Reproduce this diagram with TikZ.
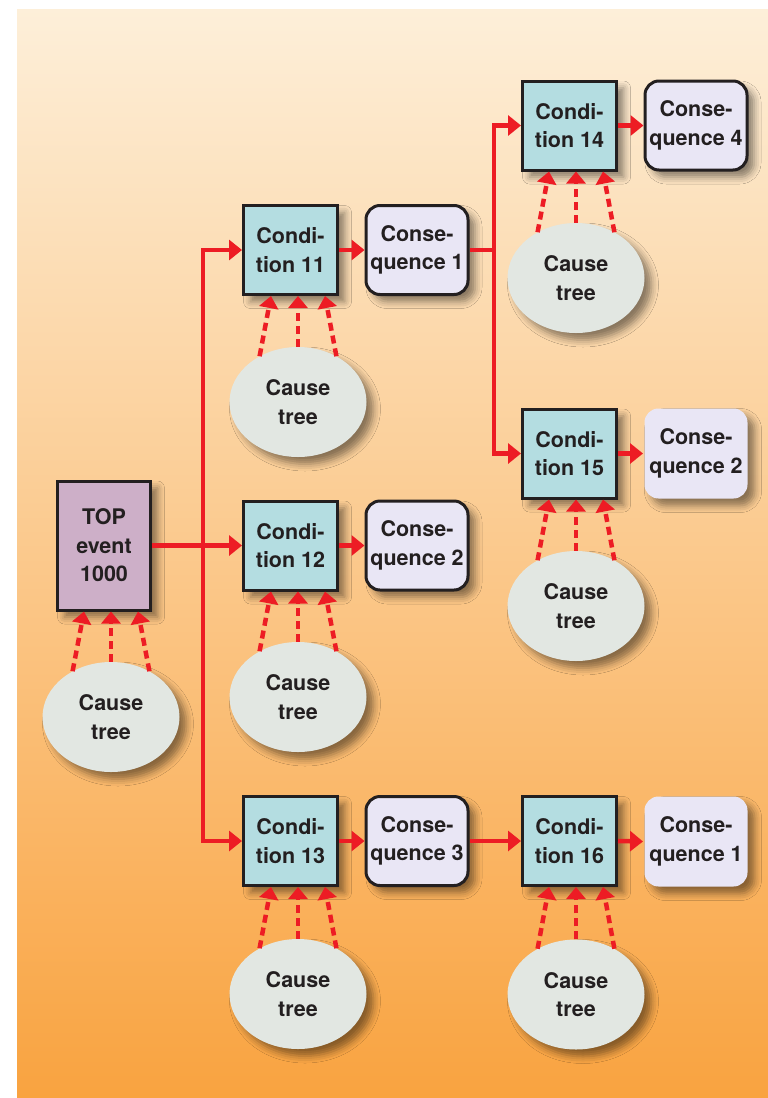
\documentclass[tikz,border=0pt]{standalone}
\usepackage{fontspec}
\setmainfont{TeX Gyre Heros}
\usetikzlibrary{arrows.meta,shapes.geometric,shadows.blur,calc}

\definecolor{bgtop}{RGB}{253,239,217}
\definecolor{bgbot}{RGB}{249,163,64}
\definecolor{arrred}{RGB}{237,28,36}
\definecolor{ink}{RGB}{35,31,32}
\definecolor{condfill}{RGB}{180,221,225}
\definecolor{consfill}{RGB}{233,230,245}
\definecolor{topfill}{RGB}{205,175,200}
\definecolor{causefill}{RGB}{226,231,226}

\tikzset{
  softshadow/.style={blur shadow={shadow xshift=7pt, shadow yshift=-7pt,
      shadow blur radius=7pt, shadow opacity=45}},
  lbl/.style={font=\fontsize{21.5}{28.5}\selectfont\bfseries, text=ink,
      align=center, inner sep=0pt},
  condbox/.style={lbl, rectangle, draw=ink, line width=3pt, fill=condfill,
      minimum width=94pt, minimum height=89pt, softshadow},
  conbox/.style={lbl, rectangle, rounded corners=14pt, draw=ink, line width=3pt,
      fill=consfill, minimum width=102pt, minimum height=89pt, softshadow},
  conplain/.style={conbox, draw=none, minimum width=103pt, minimum height=90pt},
  topbox/.style={lbl, rectangle, draw=ink, line width=3pt, fill=topfill,
      minimum width=93pt, minimum height=129pt, softshadow},
  causeell/.style={lbl, ellipse, fill=causefill, minimum width=137pt,
      minimum height=110pt, softshadow},
  flow/.style={draw=arrred, line width=4.5pt},
  flowarr/.style={flow, -{Triangle[length=13pt,width=20pt]}},
  feedarr/.style={flow, dash pattern=on 8pt off 5pt,
      -{Triangle[length=12pt,width=19pt]}},
}

% three dashed feeds from a cause tree into the box above it
\newcommand\feeds[2]{%
  \draw[feedarr] (#1.130) -- ($(#1.center |- #2.south)+(-27,0)$);
  \draw[feedarr] (#1.90) -- (#1.center |- #2.south);
  \draw[feedarr] (#1.50) -- ($(#1.center |- #2.south)+(27,0)$);}

\begin{document}
\begin{tikzpicture}[x=1pt,y=-1pt]
\useasboundingbox (0,0) rectangle (768,1098);
\fill[white] (0,0) rectangle (768,1098);
\fill[top color=bgtop, bottom color=bgbot] (17,9) rectangle (768,1097);

% top event
\node[topbox] (top) at (104,545.5) {TOP\\event\\1000};
\node[causeell] (ct) at (111,717) {Cause\\tree};

% first level
\node[condbox] (c11) at (290.5,250) {Condi-\\tion 11};
\node[conbox]  (q11) at (417,250) {Conse-\\quence 1};
\node[causeell] (e11) at (298,402) {Cause\\tree};

\node[condbox] (c12) at (290.5,545.5) {Condi-\\tion 12};
\node[conbox]  (q12) at (417,545.5) {Conse-\\quence 2};
\node[causeell] (e12) at (298,697) {Cause\\tree};

\node[condbox] (c13) at (290.5,841) {Condi-\\tion 13};
\node[conbox]  (q13) at (417,841) {Conse-\\quence 3};
\node[causeell] (e13) at (298,994) {Cause\\tree};

% second level
\node[condbox] (c14) at (569.5,125.5) {Condi-\\tion 14};
\node[conbox]  (q14) at (696,125.5) {Conse-\\quence 4};
\node[causeell] (e14) at (576,278) {Cause\\tree};

\node[condbox] (c15) at (569.5,453.5) {Condi-\\tion 15};
\node[conplain] (q15) at (696,453.5) {Conse-\\quence 2};
\node[causeell] (e15) at (576,606) {Cause\\tree};

\node[condbox] (c16) at (569.5,841) {Condi-\\tion 16};
\node[conplain] (q16) at (696,841.5) {Conse-\\quence 1};
\node[causeell] (e16) at (576,994.5) {Cause\\tree};

% main flow
\coordinate (j1) at (203,545.5);
\draw[flowarr] (top.east) -- (c12.west);
\draw[flowarr] (j1) |- (c11.west);
\draw[flowarr] (j1) |- (c13.west);
\draw[flowarr] (c11.east) -- (q11.west);
\draw[flowarr] (c12.east) -- (q12.west);
\draw[flowarr] (c13.east) -- (q13.west);

\coordinate (j2) at (494,250);
\draw[flow] (q11.east) -- (j2);
\draw[flowarr] (j2) |- (c14.west);
\draw[flowarr] (j2) |- (c15.west);
\draw[flowarr] (c14.east) -- (q14.west);
\draw[flowarr] (c15.east) -- (q15.west);
\draw[flowarr] (q13.east) -- (c16.west);
\draw[flowarr] (c16.east) -- (q16.west);

% cause trees feeding their events
\feeds{ct}{top}
\feeds{e11}{c11}
\feeds{e12}{c12}
\feeds{e13}{c13}
\feeds{e14}{c14}
\feeds{e15}{c15}
\feeds{e16}{c16}
\end{tikzpicture}
\end{document}
